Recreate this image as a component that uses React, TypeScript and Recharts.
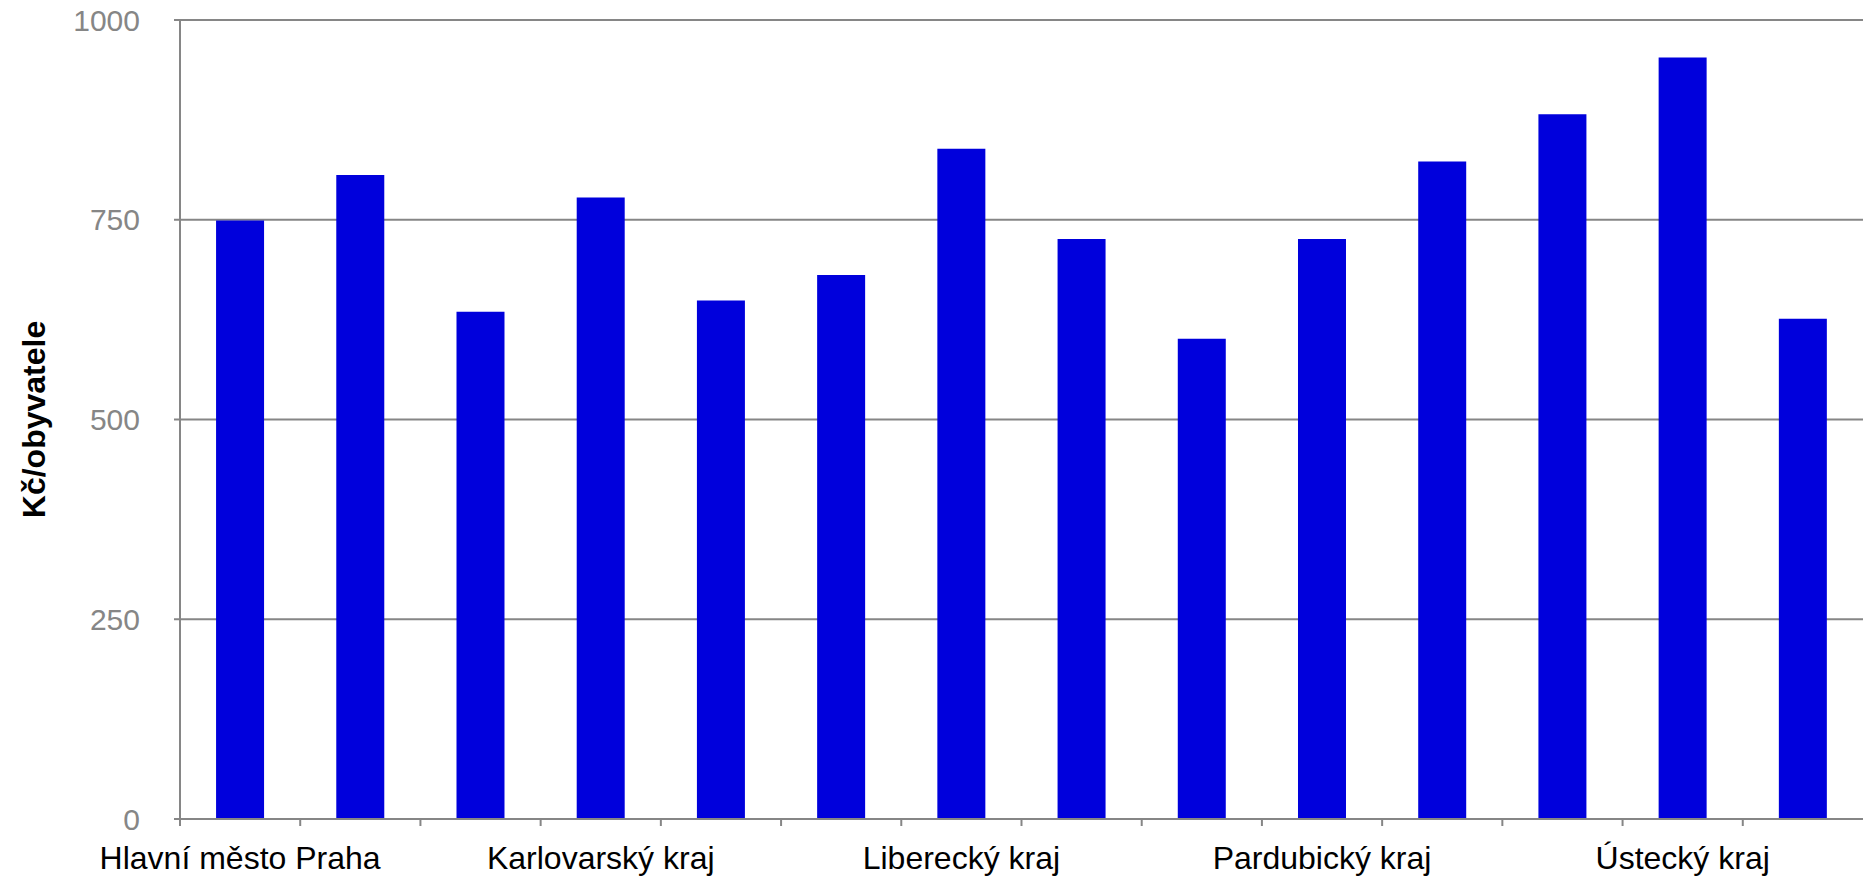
import React from 'react';
import { BarChart, Bar, XAxis, YAxis, CartesianGrid } from 'recharts';

const categories: string[] = [
  'Hlavní město Praha',
  'Jihočeský kraj',
  'Jihomoravský kraj',
  'Karlovarský kraj',
  'Kraj Vysočina',
  'Královéhradecký kraj',
  'Liberecký kraj',
  'Moravskoslezský kraj',
  'Olomoucký kraj',
  'Pardubický kraj',
  'Plzeňský kraj',
  'Středočeský kraj',
  'Ústecký kraj',
  'Zlínský kraj',
];

const values: number[] = [749, 806, 635, 778, 649, 681, 839, 726, 601, 726, 823, 882, 953, 626];

const yTicks: number[] = [0, 250, 500, 750, 1000];

const data = categories.map((name, i) => ({ name, value: values[i] }));

const CHART_W = 1863;
const CHART_H = 877;
const Y_AXIS_W = 180;
const X_AXIS_H = 58;
const TOP = 20;
const BAND = (CHART_W - Y_AXIS_W) / categories.length;
const GRAY = '#868686';
const FONT = '"Liberation Sans", Arial, sans-serif';

const XTick = (props: any) => {
  const { x, y, index, payload } = props;
  const bx = x - BAND / 2;
  return (
    <g>
      <line x1={bx} y1={y} x2={bx} y2={y + 7} stroke={GRAY} strokeWidth={2} />
      {index % 3 === 0 ? (
        <text x={x} y={y + 50} textAnchor="middle" fill="#000" fontSize={32} fontFamily={FONT}>
          {payload.value}
        </text>
      ) : null}
    </g>
  );
};

const YLabel = (props: any) => {
  const vb = props.viewBox || { x: 0, y: 0, width: Y_AXIS_W, height: 0 };
  const cx = vb.x + 34;
  const cy = vb.y + vb.height / 2;
  return (
    <text
      x={cx}
      y={cy}
      transform={`rotate(-90, ${cx}, ${cy})`}
      textAnchor="middle"
      dominantBaseline="central"
      fontSize={32}
      fontWeight="bold"
      fill="#000"
      fontFamily={FONT}
    >
      Kč/obyvatele
    </text>
  );
};

export default function App() {
  return (
    <div style={{ position: 'absolute', left: 0, top: 0, width: CHART_W, height: CHART_H, background: '#fff' }}>
      <BarChart
        width={CHART_W}
        height={CHART_H}
        data={data}
        margin={{ top: TOP, right: 0, bottom: 0, left: 0 }}
        barCategoryGap="30%"
      >
        <CartesianGrid horizontal vertical={false} stroke={GRAY} strokeWidth={2} />
        <XAxis
          dataKey="name"
          height={X_AXIS_H}
          interval={0}
          tickLine={false}
          tickSize={0}
          tickMargin={0}
          axisLine={{ stroke: GRAY, strokeWidth: 2 }}
          tick={<XTick />}
        />
        <YAxis
          width={Y_AXIS_W}
          domain={[0, 1000]}
          ticks={yTicks}
          interval={0}
          tickSize={6}
          tickMargin={34}
          tickLine={{ stroke: GRAY, strokeWidth: 2 }}
          axisLine={{ stroke: GRAY, strokeWidth: 2 }}
          tick={{ fill: GRAY, fontSize: 30, fontFamily: FONT }}
          label={<YLabel />}
        />
        <Bar dataKey="value" fill="#0000DC" isAnimationActive={false} />
      </BarChart>
    </div>
  );
}
